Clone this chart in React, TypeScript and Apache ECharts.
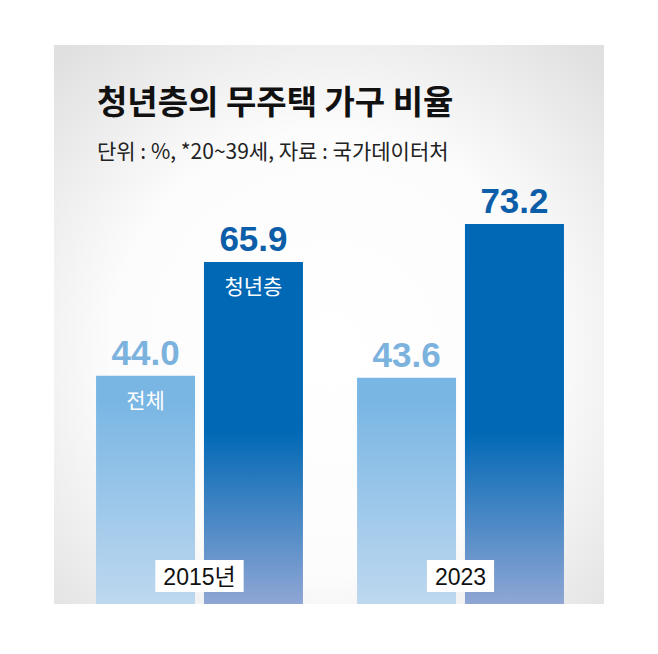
import React, { useEffect, useRef } from 'react';
import * as echarts from 'echarts';

const categories: string[] = ['2015년', '2023'];
const totalValues: number[] = [44.0, 43.6];
const youthValues: number[] = [65.9, 73.2];
const seriesNames: string[] = ['전체', '청년층'];

const titleText = '청년층의 무주택 가구 비율';
const subtitleText = '단위 : %, *20~39세, 자료 : 국가데이터처';

const KR = "'Noto Sans CJK KR', 'Noto Sans', sans-serif";
const NUM = "'Liberation Sans', Arial, sans-serif";

const App: React.FC = () => {
  const chartRef = useRef<HTMLDivElement | null>(null);

  useEffect(() => {
    document.body.style.margin = '0';
    if (!chartRef.current) return;
    const chart = echarts.init(chartRef.current, null, { renderer: 'svg' });

    // gradients are in page pixels so both groups fade the same way
    const lightFill = new echarts.graphic.LinearGradient(
      0, 400, 0, 604,
      [
        { offset: 0, color: '#79b6e4' },
        { offset: 1, color: '#bed8ef' },
      ],
      true
    );
    const darkFill = new echarts.graphic.LinearGradient(
      0, 430, 0, 604,
      [
        { offset: 0, color: '#0068b5' },
        { offset: 1, color: '#8fa6d4' },
      ],
      true
    );

    const valueLabel = (color: string) => ({
      show: true,
      position: 'top',
      distance: 6,
      fontSize: 35,
      fontWeight: 'bold',
      fontFamily: NUM,
      color,
      formatter: (p: any) => p.value.toFixed(1),
    });

    const nameLabel = {
      show: true,
      position: 'insideTop',
      distance: 13,
      fontSize: 21,
      fontFamily: KR,
      color: '#ffffff',
      formatter: (p: any) => (p.dataIndex === 0 ? p.seriesName : ''),
    };

    const option = {
      animation: false,
      graphic: [
        {
          type: 'rect',
          silent: true,
          z: -10,
          shape: { x: 54, y: 45, width: 550, height: 559 },
          style: {
            fill: new echarts.graphic.RadialGradient(0.5, 0.55, 0.72, [
              { offset: 0, color: '#ffffff' },
              { offset: 0.55, color: '#fcfcfc' },
              { offset: 1, color: '#e0e0e0' },
            ]),
          },
        },
        {
          type: 'text',
          x: 97,
          y: 100,
          style: {
            text: titleText,
            fontSize: 33,
            fontWeight: 'bold',
            fontFamily: KR,
            fill: '#111111',
            textVerticalAlign: 'middle',
          },
        },
        {
          type: 'text',
          x: 97,
          y: 150,
          style: {
            text: subtitleText,
            fontSize: 21,
            fontFamily: KR,
            fill: '#222222',
            textVerticalAlign: 'middle',
          },
        },
      ],
      grid: { left: 69, right: 67, top: 85, bottom: 50 },
      xAxis: [
        {
          type: 'category',
          data: categories,
          axisLine: { show: false },
          axisTick: { show: false },
          axisLabel: {
            margin: -44,
            fontSize: 23,
            fontFamily: "'Liberation Sans', 'Noto Sans CJK KR', sans-serif",
            color: '#111111',
            backgroundColor: '#ffffff',
            padding: [5, 8, 4, 8],
          },
          z: 10,
        },
        {
          type: 'category',
          data: categories,
          show: false,
        },
      ],
      yAxis: { type: 'value', min: 0, max: 100, show: false },
      series: [
        {
          name: seriesNames[0],
          type: 'bar',
          barWidth: 99,
          barGap: '9%',
          data: totalValues,
          itemStyle: { color: lightFill },
          label: valueLabel('#7cb2de'),
        },
        {
          name: seriesNames[1],
          type: 'bar',
          barWidth: 99,
          barGap: '9%',
          data: youthValues,
          itemStyle: { color: darkFill },
          label: valueLabel('#0d5ea8'),
        },
        // transparent copies on a hidden axis, only for the names inside the first bars
        {
          name: seriesNames[0],
          type: 'bar',
          xAxisIndex: 1,
          barWidth: 99,
          barGap: '9%',
          silent: true,
          data: totalValues,
          itemStyle: { color: 'rgba(0,0,0,0)' },
          label: nameLabel,
        },
        {
          name: seriesNames[1],
          type: 'bar',
          xAxisIndex: 1,
          barWidth: 99,
          barGap: '9%',
          silent: true,
          data: youthValues,
          itemStyle: { color: 'rgba(0,0,0,0)' },
          label: nameLabel,
        },
      ],
    };

    chart.setOption(option);
    return () => {
      chart.dispose();
    };
  }, []);

  return <div ref={chartRef} style={{ width: 658, height: 654 }} />;
};

export default App;
